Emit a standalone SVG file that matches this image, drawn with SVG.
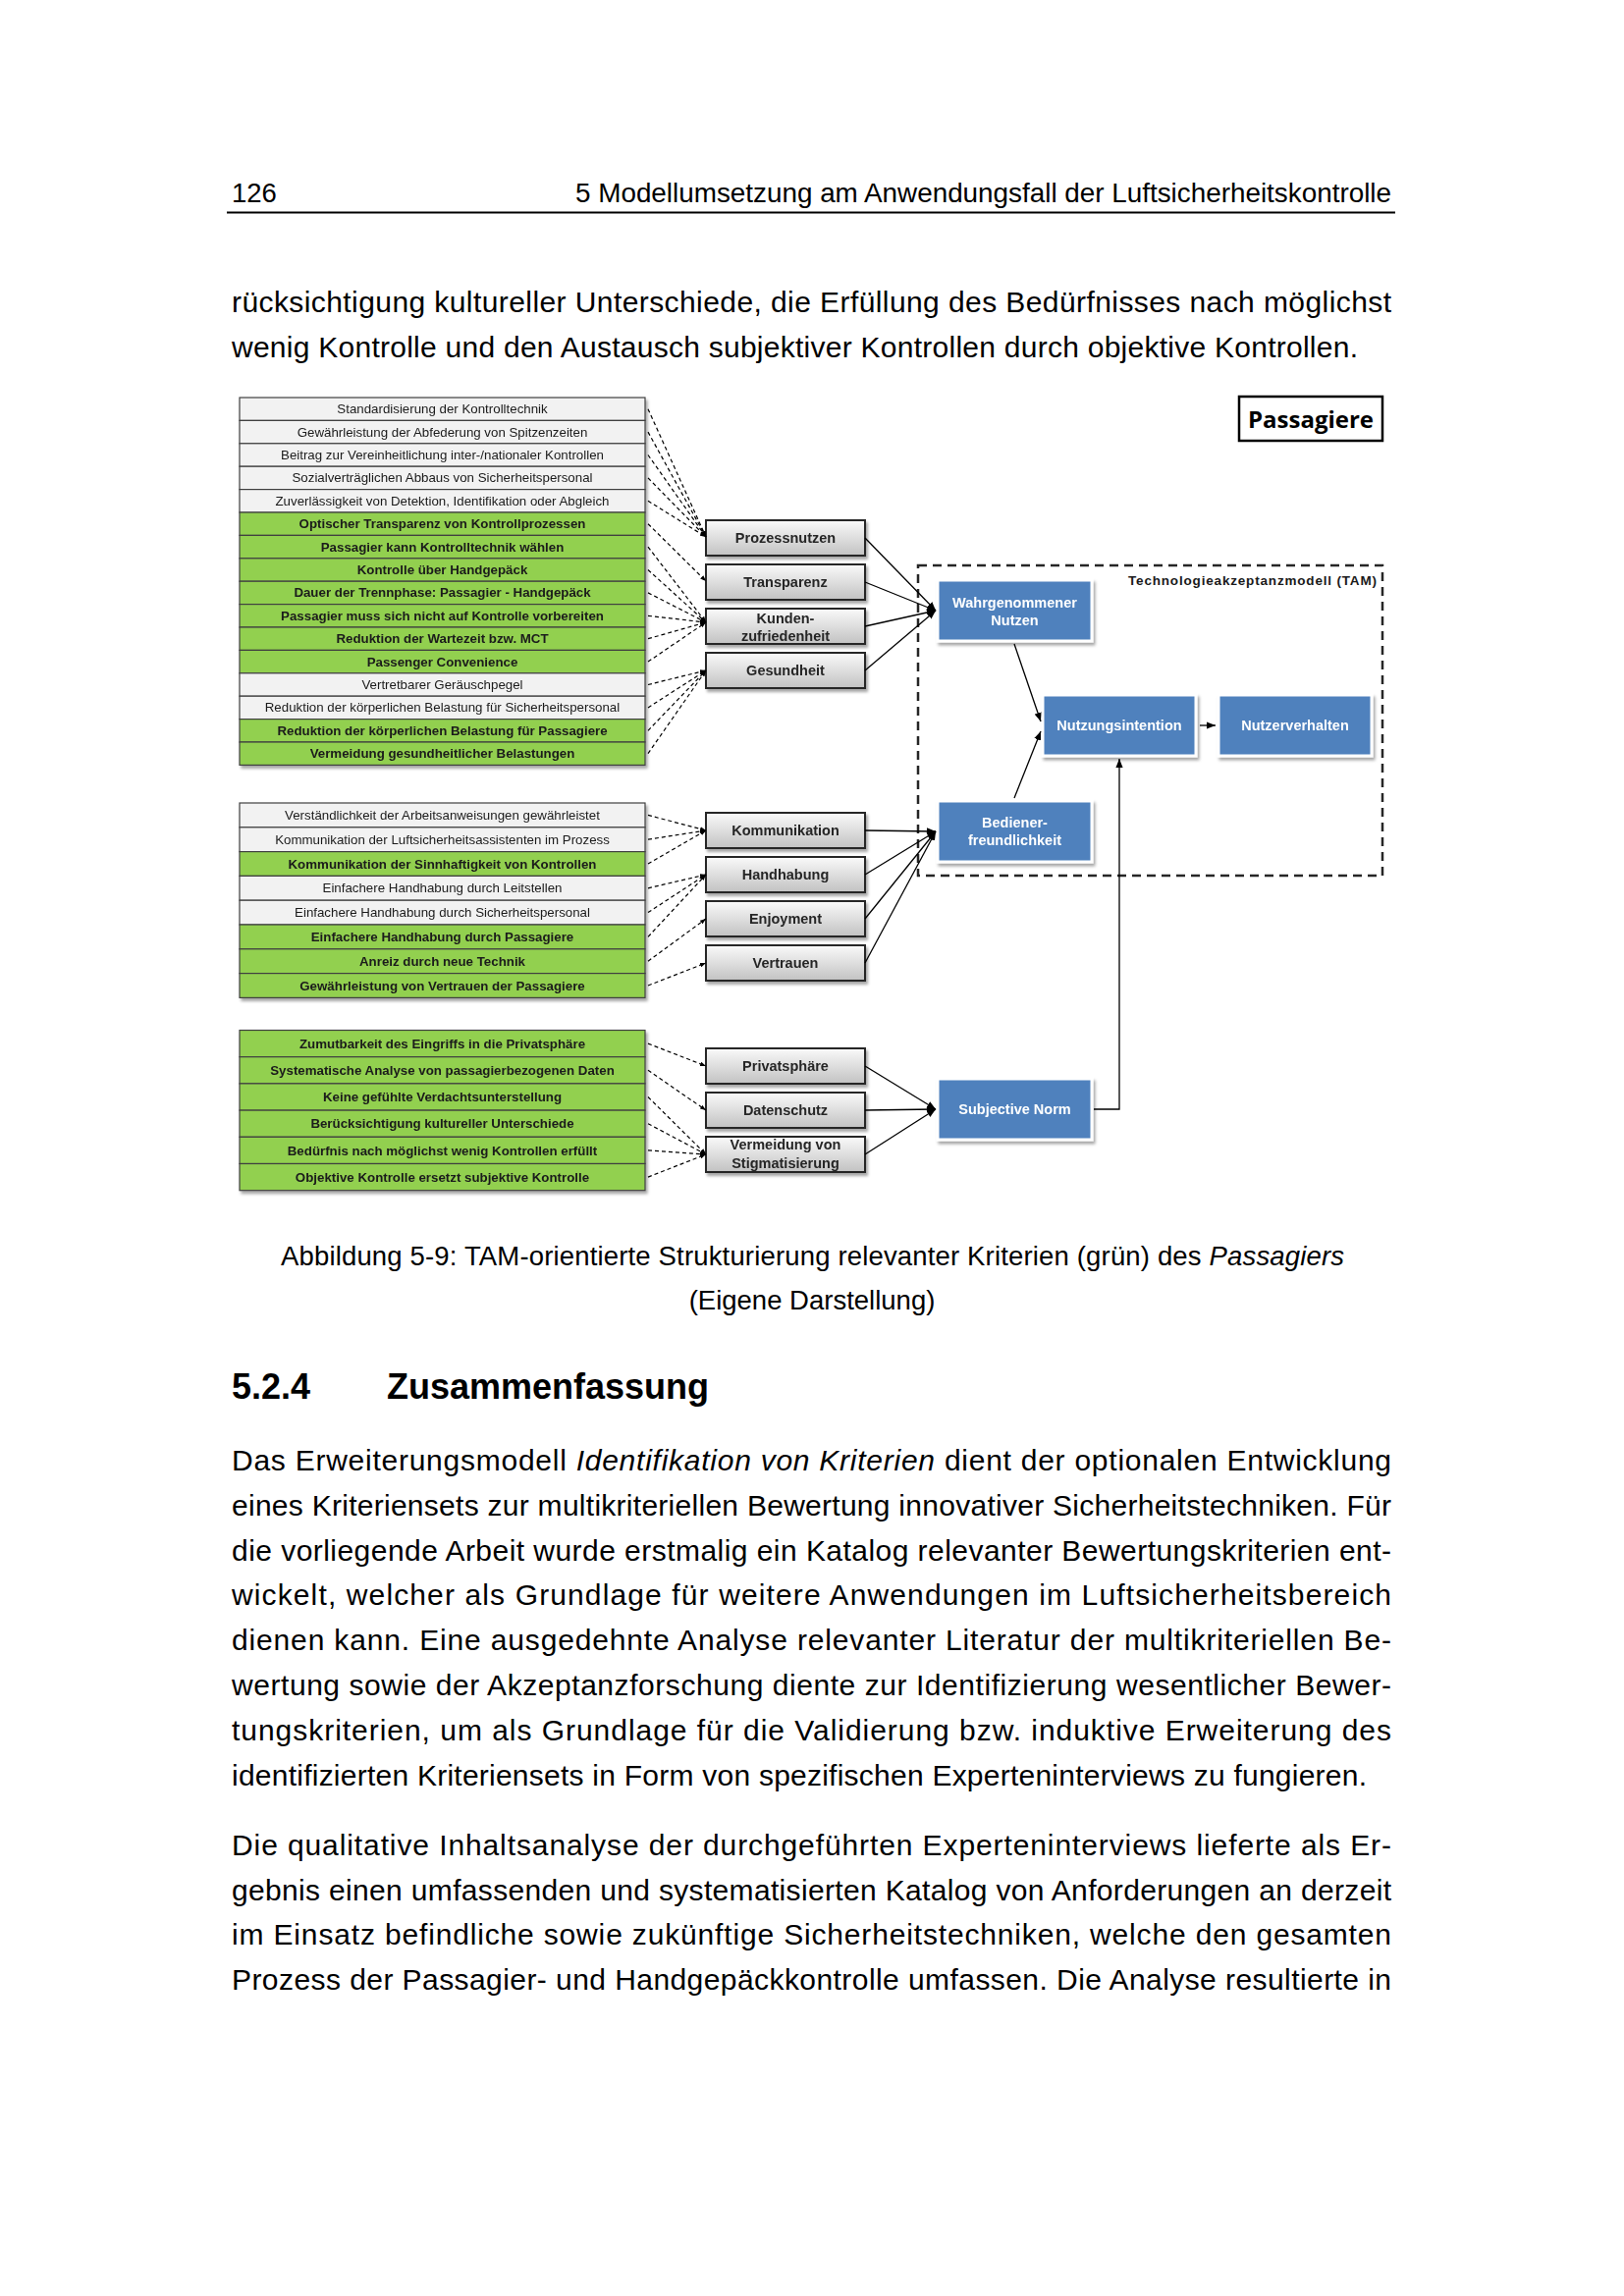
<svg xmlns="http://www.w3.org/2000/svg" width="1654" height="2339" viewBox="0 0 1654 2339">
<defs>
<linearGradient id="gg" x1="0" y1="0" x2="0" y2="1">
<stop offset="0" stop-color="#FAFAFA"/>
<stop offset="1" stop-color="#C2C2C2"/>
</linearGradient>
<filter id="sh" x="-10%" y="-10%" width="130%" height="140%">
<feDropShadow dx="2" dy="3" stdDeviation="1.5" flood-color="#000" flood-opacity="0.35"/>
</filter>
<marker id="sa" viewBox="0 0 8 6" refX="8" refY="3" markerWidth="6" markerHeight="5" markerUnits="userSpaceOnUse" orient="auto">
<path d="M0,0 L8,3 L0,6 z" fill="#000"/>
</marker>
<marker id="la" viewBox="0 0 10 8" refX="10" refY="4" markerWidth="9" markerHeight="8" markerUnits="userSpaceOnUse" orient="auto">
<path d="M0,0 L10,4 L0,8 z" fill="#000"/>
</marker>
</defs>
<style>
.page{font-family:"Liberation Sans",Arial,Helvetica,sans-serif;fill:#000}
.hdr{font-size:27.5px}
.body{font-size:30px}
.cap{font-size:27.5px}
.h2{font-size:36px;font-weight:bold}
.rw{fill:#F2F2F2;stroke:#404040;stroke-width:1.2}
.rg{fill:#92D050;stroke:#404040;stroke-width:1.2}
.lt{font-family:"Liberation Sans",Arial,sans-serif;font-size:13.3px;fill:#1a1a1a;text-anchor:middle}
.b{font-weight:bold}
.gb{fill:url(#gg);stroke:#262626;stroke-width:2}
.gt{font-family:"Liberation Sans",Arial,sans-serif;font-size:14.5px;font-weight:bold;fill:#262626;text-anchor:middle}
.bb{fill:#4F81BD;stroke:#FFFFFF;stroke-width:3}
.bt{font-family:"Liberation Sans",Arial,sans-serif;font-size:14.5px;font-weight:bold;fill:#FFFFFF;text-anchor:middle}
.dl{stroke:#000;stroke-width:1.2;stroke-dasharray:4 3;fill:none;marker-end:url(#sa)}
.sl{stroke:#000;stroke-width:1.3;fill:none;marker-end:url(#la)}
</style>
<rect width="1654" height="2339" fill="#FFFFFF"/>

<g id="page-text" class="page">
<text class="hdr" x="236" y="206">126</text>
<text class="hdr" x="1417" y="206" text-anchor="end" textLength="831" lengthAdjust="spacingAndGlyphs">5 Modellumsetzung am Anwendungsfall der Luftsicherheitskontrolle</text>
<line x1="231" y1="216.5" x2="1421" y2="216.5" stroke="#000" stroke-width="2"/>
<text class="body" x="236" y="318" textLength="1181" lengthAdjust="spacing">rücksichtigung kultureller Unterschiede, die Erfüllung des Bedürfnisses nach möglichst</text>
<text class="body" x="236" y="364" textLength="1147" lengthAdjust="spacing">wenig Kontrolle und den Austausch subjektiver Kontrollen durch objektive Kontrollen.</text>

<text class="cap" x="827.5" y="1289" text-anchor="middle" textLength="1083" lengthAdjust="spacing">Abbildung 5-9: TAM-orientierte Strukturierung relevanter Kriterien (grün) des <tspan font-style="italic">Passagiers</tspan></text>
<text class="cap" x="827" y="1334" text-anchor="middle">(Eigene Darstellung)</text>

<text class="h2" x="236" y="1425">5.2.4</text>
<text class="h2" x="394" y="1425">Zusammenfassung</text>

<text class="body" x="236" y="1498" textLength="1181" lengthAdjust="spacing">Das Erweiterungsmodell <tspan font-style="italic">Identifikation von Kriterien</tspan> dient der optionalen Entwicklung</text>
<text class="body" x="236" y="1544" textLength="1181" lengthAdjust="spacing">eines Kriteriensets zur multikriteriellen Bewertung innovativer Sicherheitstechniken. Für</text>
<text class="body" x="236" y="1590" textLength="1181" lengthAdjust="spacing">die vorliegende Arbeit wurde erstmalig ein Katalog relevanter Bewertungskriterien ent-</text>
<text class="body" x="236" y="1635" textLength="1181" lengthAdjust="spacing">wickelt, welcher als Grundlage für weitere Anwendungen im Luftsicherheitsbereich</text>
<text class="body" x="236" y="1681" textLength="1181" lengthAdjust="spacing">dienen kann. Eine ausgedehnte Analyse relevanter Literatur der multikriteriellen Be-</text>
<text class="body" x="236" y="1727" textLength="1181" lengthAdjust="spacing">wertung sowie der Akzeptanzforschung diente zur Identifizierung wesentlicher Bewer-</text>
<text class="body" x="236" y="1773" textLength="1181" lengthAdjust="spacing">tungskriterien, um als Grundlage für die Validierung bzw. induktive Erweiterung des</text>
<text class="body" x="236" y="1819" textLength="1156" lengthAdjust="spacing">identifizierten Kriteriensets in Form von spezifischen Experteninterviews zu fungieren.</text>

<text class="body" x="236" y="1890" textLength="1181" lengthAdjust="spacing">Die qualitative Inhaltsanalyse der durchgeführten Experteninterviews lieferte als Er-</text>
<text class="body" x="236" y="1936" textLength="1181" lengthAdjust="spacing">gebnis einen umfassenden und systematisierten Katalog von Anforderungen an derzeit</text>
<text class="body" x="236" y="1981" textLength="1181" lengthAdjust="spacing">im Einsatz befindliche sowie zukünftige Sicherheitstechniken, welche den gesamten</text>
<text class="body" x="236" y="2027" textLength="1181" lengthAdjust="spacing">Prozess der Passagier- und Handgepäckkontrolle umfassen. Die Analyse resultierte in</text>
</g>

<g id="tam-frame">
<rect x="935" y="576" width="473" height="316" fill="none" stroke="#262626" stroke-width="2.5" stroke-dasharray="9 6"/>
<text x="1402" y="596" text-anchor="end" font-family="Liberation Sans, Arial, sans-serif" font-size="13.5" font-weight="bold" fill="#1a1a1a" textLength="253" lengthAdjust="spacing">Technologieakzeptanzmodell (TAM)</text>
</g>

<g id="passagiere">
<rect x="1262" y="404" width="146" height="45" fill="#FFFFFF" stroke="#000" stroke-width="2.5"/>
<text x="1335" y="436" text-anchor="middle" font-family="Open Sans, Liberation Sans, sans-serif" font-size="24" font-weight="bold" fill="#000">Passagiere</text>
</g>

<g id="list1" filter="url(#sh)">
<g id="l1-r01"><rect class="rw" x="244" y="405" width="413" height="23.4"/><text class="lt" x="450.5" y="421.2">Standardisierung der Kontrolltechnik</text></g>
<g id="l1-r02"><rect class="rw" x="244" y="428.4" width="413" height="23.4"/><text class="lt" x="450.5" y="444.6">Gewährleistung der Abfederung von Spitzenzeiten</text></g>
<g id="l1-r03"><rect class="rw" x="244" y="451.8" width="413" height="23.4"/><text class="lt" x="450.5" y="468">Beitrag zur Vereinheitlichung inter-/nationaler Kontrollen</text></g>
<g id="l1-r04"><rect class="rw" x="244" y="475.2" width="413" height="23.4"/><text class="lt" x="450.5" y="491.4">Sozialverträglichen Abbaus von Sicherheitspersonal</text></g>
<g id="l1-r05"><rect class="rw" x="244" y="498.6" width="413" height="23.4"/><text class="lt" x="450.5" y="514.8">Zuverlässigkeit von Detektion, Identifikation oder Abgleich</text></g>
<g id="l1-r06"><rect class="rg" x="244" y="522" width="413" height="23.4"/><text class="lt b" x="450.5" y="538.2">Optischer Transparenz von Kontrollprozessen</text></g>
<g id="l1-r07"><rect class="rg" x="244" y="545.4" width="413" height="23.4"/><text class="lt b" x="450.5" y="561.6">Passagier kann Kontrolltechnik wählen</text></g>
<g id="l1-r08"><rect class="rg" x="244" y="568.8" width="413" height="23.4"/><text class="lt b" x="450.5" y="585">Kontrolle über Handgepäck</text></g>
<g id="l1-r09"><rect class="rg" x="244" y="592.2" width="413" height="23.4"/><text class="lt b" x="450.5" y="608.4">Dauer der Trennphase: Passagier - Handgepäck</text></g>
<g id="l1-r10"><rect class="rg" x="244" y="615.6" width="413" height="23.4"/><text class="lt b" x="450.5" y="631.8">Passagier muss sich nicht auf Kontrolle vorbereiten</text></g>
<g id="l1-r11"><rect class="rg" x="244" y="639" width="413" height="23.4"/><text class="lt b" x="450.5" y="655.2">Reduktion der Wartezeit bzw. MCT</text></g>
<g id="l1-r12"><rect class="rg" x="244" y="662.4" width="413" height="23.4"/><text class="lt b" x="450.5" y="678.6">Passenger Convenience</text></g>
<g id="l1-r13"><rect class="rw" x="244" y="685.8" width="413" height="23.4"/><text class="lt" x="450.5" y="702">Vertretbarer Geräuschpegel</text></g>
<g id="l1-r14"><rect class="rw" x="244" y="709.2" width="413" height="23.4"/><text class="lt" x="450.5" y="725.4">Reduktion der körperlichen Belastung für Sicherheitspersonal</text></g>
<g id="l1-r15"><rect class="rg" x="244" y="732.6" width="413" height="23.4"/><text class="lt b" x="450.5" y="748.8">Reduktion der körperlichen Belastung für Passagiere</text></g>
<g id="l1-r16"><rect class="rg" x="244" y="756" width="413" height="23.4"/><text class="lt b" x="450.5" y="772.2">Vermeidung gesundheitlicher Belastungen</text></g>
</g>

<g id="list2" filter="url(#sh)">
<g id="l2-r1"><rect class="rw" x="244" y="818" width="413" height="24.8"/><text class="lt" x="450.5" y="835">Verständlichkeit der Arbeitsanweisungen gewährleistet</text></g>
<g id="l2-r2"><rect class="rw" x="244" y="842.8" width="413" height="24.8"/><text class="lt" x="450.5" y="859.8">Kommunikation der Luftsicherheitsassistenten im Prozess</text></g>
<g id="l2-r3"><rect class="rg" x="244" y="867.6" width="413" height="24.8"/><text class="lt b" x="450.5" y="884.6">Kommunikation der Sinnhaftigkeit von Kontrollen</text></g>
<g id="l2-r4"><rect class="rw" x="244" y="892.4" width="413" height="24.8"/><text class="lt" x="450.5" y="909.4">Einfachere Handhabung durch Leitstellen</text></g>
<g id="l2-r5"><rect class="rw" x="244" y="917.2" width="413" height="24.8"/><text class="lt" x="450.5" y="934.2">Einfachere Handhabung durch Sicherheitspersonal</text></g>
<g id="l2-r6"><rect class="rg" x="244" y="942" width="413" height="24.8"/><text class="lt b" x="450.5" y="959">Einfachere Handhabung durch Passagiere</text></g>
<g id="l2-r7"><rect class="rg" x="244" y="966.8" width="413" height="24.8"/><text class="lt b" x="450.5" y="983.8">Anreiz durch neue Technik</text></g>
<g id="l2-r8"><rect class="rg" x="244" y="991.6" width="413" height="24.8"/><text class="lt b" x="450.5" y="1008.6">Gewährleistung von Vertrauen der Passagiere</text></g>
</g>

<g id="list3" filter="url(#sh)">
<g id="l3-r1"><rect class="rg" x="244" y="1049.5" width="413" height="27.2"/><text class="lt b" x="450.5" y="1067.7">Zumutbarkeit des Eingriffs in die Privatsphäre</text></g>
<g id="l3-r2"><rect class="rg" x="244" y="1076.7" width="413" height="27.2"/><text class="lt b" x="450.5" y="1094.9">Systematische Analyse von passagierbezogenen Daten</text></g>
<g id="l3-r3"><rect class="rg" x="244" y="1103.9" width="413" height="27.2"/><text class="lt b" x="450.5" y="1122.1">Keine gefühlte Verdachtsunterstellung</text></g>
<g id="l3-r4"><rect class="rg" x="244" y="1131.1" width="413" height="27.2"/><text class="lt b" x="450.5" y="1149.3">Berücksichtigung kultureller Unterschiede</text></g>
<g id="l3-r5"><rect class="rg" x="244" y="1158.3" width="413" height="27.2"/><text class="lt b" x="450.5" y="1176.5">Bedürfnis nach möglichst wenig Kontrollen erfüllt</text></g>
<g id="l3-r6"><rect class="rg" x="244" y="1185.5" width="413" height="27.2"/><text class="lt b" x="450.5" y="1203.7">Objektive Kontrolle ersetzt subjektive Kontrolle</text></g>
</g>

<g id="prozessnutzen" filter="url(#sh)"><rect class="gb" x="719" y="530" width="162" height="36"/><text class="gt" x="800" y="553">Prozessnutzen</text></g>
<g id="transparenz" filter="url(#sh)"><rect class="gb" x="719" y="575" width="162" height="36"/><text class="gt" x="800" y="598">Transparenz</text></g>
<g id="kundenzufriedenheit" filter="url(#sh)"><rect class="gb" x="719" y="620" width="162" height="36"/><text class="gt" x="800" y="635">Kunden-</text><text class="gt" x="800" y="653">zufriedenheit</text></g>
<g id="gesundheit" filter="url(#sh)"><rect class="gb" x="719" y="665" width="162" height="36"/><text class="gt" x="800" y="688">Gesundheit</text></g>

<g id="kommunikation" filter="url(#sh)"><rect class="gb" x="719" y="828" width="162" height="36"/><text class="gt" x="800" y="851">Kommunikation</text></g>
<g id="handhabung" filter="url(#sh)"><rect class="gb" x="719" y="873" width="162" height="36"/><text class="gt" x="800" y="896">Handhabung</text></g>
<g id="enjoyment" filter="url(#sh)"><rect class="gb" x="719" y="918" width="162" height="36"/><text class="gt" x="800" y="941">Enjoyment</text></g>
<g id="vertrauen" filter="url(#sh)"><rect class="gb" x="719" y="963" width="162" height="36"/><text class="gt" x="800" y="986">Vertrauen</text></g>

<g id="privatsphaere" filter="url(#sh)"><rect class="gb" x="719" y="1068" width="162" height="36"/><text class="gt" x="800" y="1091">Privatsphäre</text></g>
<g id="datenschutz" filter="url(#sh)"><rect class="gb" x="719" y="1113" width="162" height="36"/><text class="gt" x="800" y="1136">Datenschutz</text></g>
<g id="stigmatisierung" filter="url(#sh)"><rect class="gb" x="719" y="1158" width="162" height="36"/><text class="gt" x="800" y="1171">Vermeidung von</text><text class="gt" x="800" y="1190">Stigmatisierung</text></g>

<g id="wahrgenommener-nutzen" filter="url(#sh)"><rect class="bb" x="955" y="591" width="157" height="62"/><text class="bt" x="1033.5" y="619">Wahrgenommener</text><text class="bt" x="1033.5" y="637">Nutzen</text></g>
<g id="bedienerfreundlichkeit" filter="url(#sh)"><rect class="bb" x="955" y="816" width="157" height="62"/><text class="bt" x="1033.5" y="843">Bediener-</text><text class="bt" x="1033.5" y="861">freundlichkeit</text></g>
<g id="nutzungsintention" filter="url(#sh)"><rect class="bb" x="1062" y="708" width="156" height="62"/><text class="bt" x="1140" y="744">Nutzungsintention</text></g>
<g id="nutzerverhalten" filter="url(#sh)"><rect class="bb" x="1241" y="708" width="156" height="62"/><text class="bt" x="1319" y="744">Nutzerverhalten</text></g>
<g id="subjective-norm" filter="url(#sh)"><rect class="bb" x="955" y="1099" width="157" height="62"/><text class="bt" x="1033.5" y="1135">Subjective Norm</text></g>

<g id="connectors">
<line class="dl" x1="660" y1="416.7" x2="719" y2="547"/>
<line class="dl" x1="660" y1="440.1" x2="719" y2="547"/>
<line class="dl" x1="660" y1="463.5" x2="719" y2="547"/>
<line class="dl" x1="660" y1="486.9" x2="719" y2="547"/>
<line class="dl" x1="660" y1="510.3" x2="719" y2="547"/>
<line class="dl" x1="660" y1="533.7" x2="719" y2="592"/>
<line class="dl" x1="660" y1="557.1" x2="719" y2="634"/>
<line class="dl" x1="660" y1="580.5" x2="719" y2="634"/>
<line class="dl" x1="660" y1="603.9" x2="719" y2="634"/>
<line class="dl" x1="660" y1="627.3" x2="719" y2="634"/>
<line class="dl" x1="660" y1="650.7" x2="719" y2="634"/>
<line class="dl" x1="660" y1="674.1" x2="719" y2="634"/>
<line class="dl" x1="660" y1="697.5" x2="719" y2="683"/>
<line class="dl" x1="660" y1="720.9" x2="719" y2="683"/>
<line class="dl" x1="660" y1="744.3" x2="719" y2="683"/>
<line class="dl" x1="660" y1="767.7" x2="719" y2="683"/>
<line class="dl" x1="660" y1="830.4" x2="719" y2="846"/>
<line class="dl" x1="660" y1="855.2" x2="719" y2="846"/>
<line class="dl" x1="660" y1="880" x2="719" y2="846"/>
<line class="dl" x1="660" y1="904.8" x2="719" y2="891"/>
<line class="dl" x1="660" y1="929.6" x2="719" y2="891"/>
<line class="dl" x1="660" y1="954.4" x2="719" y2="891"/>
<line class="dl" x1="660" y1="979.2" x2="719" y2="936"/>
<line class="dl" x1="660" y1="1004" x2="719" y2="981"/>
<line class="dl" x1="660" y1="1063.1" x2="719" y2="1086"/>
<line class="dl" x1="660" y1="1090.3" x2="719" y2="1131"/>
<line class="dl" x1="660" y1="1117.5" x2="719" y2="1176"/>
<line class="dl" x1="660" y1="1144.7" x2="719" y2="1176"/>
<line class="dl" x1="660" y1="1171.9" x2="719" y2="1176"/>
<line class="dl" x1="660" y1="1199.1" x2="719" y2="1176"/>
<line class="sl" x1="881" y1="548" x2="953" y2="622"/>
<line class="sl" x1="881" y1="593" x2="953" y2="622"/>
<line class="sl" x1="881" y1="638" x2="953" y2="622"/>
<line class="sl" x1="881" y1="683" x2="953" y2="622"/>
<line class="sl" x1="881" y1="846" x2="953" y2="847"/>
<line class="sl" x1="881" y1="891" x2="953" y2="847"/>
<line class="sl" x1="881" y1="936" x2="953" y2="847"/>
<line class="sl" x1="881" y1="981" x2="953" y2="847"/>
<line class="sl" x1="881" y1="1086" x2="953" y2="1130"/>
<line class="sl" x1="881" y1="1131" x2="953" y2="1130"/>
<line class="sl" x1="881" y1="1176" x2="953" y2="1130"/>
<line class="sl" x1="1033" y1="656" x2="1060" y2="735"/>
<line class="sl" x1="1033" y1="813" x2="1060" y2="745"/>
<line class="sl" x1="1222" y1="739" x2="1238" y2="739"/>
<polyline class="sl" points="1114,1130 1140,1130 1140,773"/>
</g>
</svg>
